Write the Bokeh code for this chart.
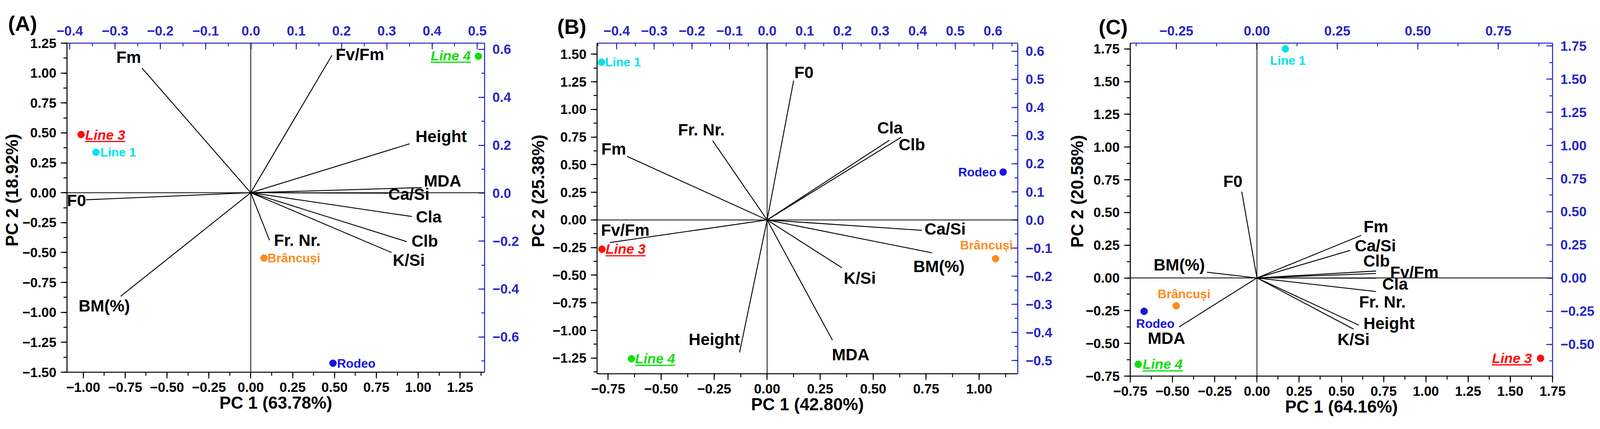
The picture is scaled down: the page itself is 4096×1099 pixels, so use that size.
import numpy as np
from bokeh.plotting import figure
from bokeh.models import (Range1d, LinearAxis, FixedTicker, CustomJSTickFormatter,
                          Span, Title, ColumnDataSource)
from bokeh.layouts import row
from bokeh.embed import file_html
from bokeh.resources import INLINE
from bokeh.core.properties import value

# ------------------------------------------------------------------ data
# Panel A
A_vars = ["Fm", "F0", "BM(%)", "Fr. Nr.", "Fv/Fm", "Height", "MDA", "Ca/Si", "Cla", "Clb", "K/Si"]
A_load_pc1 = [-0.649, -0.983, -0.777, 0.112, 0.485, 0.949, 1.022, 0.821, 0.962, 0.932, 0.841]
A_load_pc2 = [1.041, -0.059, -0.866, -0.398, 1.149, 0.409, 0.043, -0.004, -0.199, -0.409, -0.500]
A_obs = ["Line 3", "Line 1", "Brâncuși", "Rodeo", "Line 4"]
A_score_pc1 = [-1.013, -0.924, 0.079, 0.491, 1.359]
A_score_pc2 = [0.486, 0.338, -0.546, -1.425, 1.140]
A_xlabel = "PC 1 (63.78%)"
A_ylabel = "PC 2 (18.92%)"

# Panel B
B_vars = ["F0", "Fr. Nr.", "Fm", "Fv/Fm", "Height", "Cla", "Clb", "Ca/Si", "BM(%)", "K/Si", "MDA"]
B_load_pc1 = [0.125, -0.257, -0.661, -0.742, -0.130, 0.577, 0.631, 0.730, 0.777, 0.353, 0.308]
B_load_pc2 = [1.261, 0.717, 0.576, -0.205, -1.199, 0.722, 0.747, -0.094, -0.297, -0.433, -1.088]
B_obs = ["Line 1", "Line 3", "Line 4", "Rodeo", "Brâncuși"]
B_score_pc1 = [-0.781, -0.779, -0.640, 1.113, 1.077]
B_score_pc2 = [1.427, -0.265, -1.256, 0.433, -0.351]
B_xlabel = "PC 1 (42.80%)"
B_ylabel = "PC 2 (25.38%)"

# Panel C
C_vars = ["F0", "BM(%)", "MDA", "Fm", "Ca/Si", "Clb", "Fv/Fm", "Cla", "Fr. Nr.", "Height", "K/Si"]
C_load_pc1 = [-0.090, -0.296, -0.461, 0.617, 0.552, 0.705, 0.705, 0.705, 0.705, 0.603, 0.572]
C_load_pc2 = [0.659, 0.044, -0.374, 0.325, 0.211, 0.053, 0.034, -0.002, -0.104, -0.361, -0.391]
C_obs = ["Line 1", "Brâncuși", "Rodeo", "Line 4", "Line 3"]
C_score_pc1 = [0.168, -0.478, -0.668, -0.703, 1.679]
C_score_pc2 = [1.750, -0.213, -0.255, -0.660, -0.614]
C_xlabel = "PC 1 (64.16%)"
C_ylabel = "PC 2 (20.58%)"

# ------------------------------------------------------------------ label layout (screen px offsets)
A_var_lay = [("center", -34.3, -28.1), ("right", 0, 2), ("center", -41.8, 24.4), ("left", 11.3, 0),
             ("left", 9.3, -2), ("left", 14.9, -18.8), ("left", 4.8, -17.5), ("left", 0, 3),
             ("left", 10.4, 1.3), ("left", 11.9, -1.4), ("left", 3, 19.7)]
A_obs_lay = [("left", 10.5, 1), ("left", 11.5, 0), ("left", 9, 0), ("left", 10.6, 0), ("right", -19.5, -1.6)]
B_var_lay = [("left", 1.8, -21), ("center", -28.9, -28), ("right", -2.4, -18.9), ("center", 39.5, -31.5),
             ("right", 1, -33.6), ("center", 1.4, -31.6), ("left", -6, 18.9), ("left", 6.7, -3.4),
             ("center", 18, 35.1), ("left", 4.6, 26.7), ("center", 46.7, 37.2)]
B_obs_lay = [("left", 9.3, 0), ("left", 9.3, 0), ("left", 9.3, 0), ("right", -16.8, 0), ("center", -23.2, -35)]
C_var_lay = [("center", -22.8, -26.7), ("right", -5.3, -19), ("center", -32.3, 29.4), ("left", 6.1, -22.3),
             ("left", 11.7, -11.8), ("center", 1.4, -25.5), ("left", 36, -3.2), ("left", 15.8, 15.2),
             ("center", 16.3, 26.6), ("left", 11.9, -4.8), ("center", 0, 26.6)]
C_obs_lay = [("center", 6.6, 29.3), ("center", 20.1, -30.1), ("center", 28.8, 31.5), ("left", 11.1, 0),
             ("right", -22, 0)]

FONT = "Liberation Sans"
AX_BLUE = "#2626C8"
OBS_COLORS = {"Line 1": "#00E2EA", "Line 3": "#FF0A0A", "Line 4": "#10E010",
              "Rodeo": "#1515E2", "Brâncuși": "#FF8A1E"}
ITALIC = {"Line 3", "Line 4"}

VAR_FS = 42.2
OBS_FS = 31.6
ITAL_FS = 35.5
TICK_FS = 34.5
TITLE_FS = 44
LETTER_FS = 53.7


def tick_list(a, b, step):
    n = int(round((b - a) / step))
    return [round(a + i * step, 6) for i in range(n + 1)]


def fmt(d):
    return CustomJSTickFormatter(code="return tick.toFixed(%d).replace('-', '\\u2212');" % d)


def style_axis(ax, color, inward, major, minor, digits, standoff):
    ax.ticker = FixedTicker(ticks=major, minor_ticks=minor)
    ax.formatter = fmt(digits)
    ax.axis_line_color = color
    ax.axis_line_width = 2.6
    ax.major_tick_line_color = color
    ax.minor_tick_line_color = color
    ax.major_tick_line_width = 2.4
    ax.minor_tick_line_width = 2.4
    if inward:
        ax.major_tick_in, ax.major_tick_out = 16, 0
        ax.minor_tick_in, ax.minor_tick_out = 8, 0
    else:
        ax.major_tick_in, ax.major_tick_out = 0, 16
        ax.minor_tick_in, ax.minor_tick_out = 0, 9
    ax.major_label_text_font = FONT
    ax.major_label_text_font_style = "bold"
    ax.major_label_text_font_size = "%spx" % TICK_FS
    ax.major_label_text_color = color
    ax.major_label_standoff = standoff


def make_panel(cfg, vars_, lpc1, lpc2, var_lay, obs, spc1, spc2, obs_lay, xlabel, ylabel, letter):
    x0, x1 = cfg["xr"]
    y0, y1 = cfg["yr"]
    p = figure(x_range=Range1d(x0, x1), y_range=Range1d(y0, y1),
               frame_width=cfg["fw"], frame_height=cfg["fh"],
               min_border_left=cfg["bl"], min_border_right=cfg["br"],
               min_border_top=cfg["bt"], min_border_bottom=cfg["bb"],
               output_backend="svg", toolbar_location=None)
    p.outline_line_color = None
    p.grid.visible = False
    p.background_fill_color = "white"
    p.border_fill_color = "white"
    p.extra_x_ranges = {"top": Range1d(*cfg["xr2"])}
    p.extra_y_ranges = {"right": Range1d(*cfg["yr2"])}
    top = LinearAxis(x_range_name="top")
    right = LinearAxis(y_range_name="right")
    p.add_layout(top, "above")
    p.add_layout(right, "right")
    bottom = p.below[0]
    left = p.left[0]
    style_axis(bottom, "black", False, *cfg["bt_ticks"], 2, 10)
    style_axis(left, "black", False, *cfg["lt_ticks"], 2, 11)
    style_axis(top, AX_BLUE, True, *cfg["tt_ticks"], cfg["tdig"], 20)
    style_axis(right, AX_BLUE, True, *cfg["rt_ticks"], cfg["rdig"], 20)

    # bottom axis title
    bottom.axis_label = xlabel
    bottom.axis_label_standoff = 0
    bottom.axis_label_text_font = FONT
    bottom.axis_label_text_font_style = "bold"
    bottom.axis_label_text_font_size = "%spx" % TITLE_FS
    bottom.axis_label_text_color = "black"

    # left title (vertical), shifted along the axis as in the original
    ytitle = Title(text=ylabel, align="left", offset=cfg["ylab_off"], standoff=cfg["ylab_so"],
                   text_font=FONT, text_font_style="bold", text_font_size="%spx" % TITLE_FS,
                   text_color="black")
    p.add_layout(ytitle, "left")

    # panel letter
    p.title.text = letter
    p.title.align = "left"
    p.title.offset = cfg["let_off"]
    p.title.standoff = cfg["let_so"]
    p.title.text_font = FONT
    p.title.text_font_style = "bold"
    p.title.text_font_size = "%spx" % LETTER_FS
    p.title.text_color = "black"

    p.add_layout(Span(location=0, dimension="width", line_color="black", line_width=1.9))
    p.add_layout(Span(location=0, dimension="height", line_color="black", line_width=1.9))

    n = len(vars_)
    src = ColumnDataSource(dict(x0=[0.0] * n, y0=[0.0] * n, x1=lpc1, y1=lpc2, text=vars_,
                                align=[l[0] for l in var_lay], dx=[l[1] for l in var_lay],
                                dy=[l[2] for l in var_lay]))
    p.segment("x0", "y0", "x1", "y1", source=src, line_color="black", line_width=2.3)
    p.text(x="x1", y="y1", text="text", x_offset="dx", y_offset="dy", text_align="align",
           text_baseline="middle", text_font=value(FONT), text_font_style="bold",
           text_font_size=value("%spx" % VAR_FS), text_color="black", source=src)

    colors = [OBS_COLORS[o] for o in obs]
    p.scatter(spc1, spc2, size=18, fill_color=colors, line_color=colors)

    ppx = cfg["fw"] / (x1 - x0)
    ppy = cfg["fh"] / (y1 - y0)
    for grp_italic in (False, True):
        idx = [i for i, o in enumerate(obs) if (o in ITALIC) == grp_italic]
        s = ColumnDataSource(dict(x=[spc1[i] for i in idx], y=[spc2[i] for i in idx],
                                  text=[obs[i] for i in idx], color=[colors[i] for i in idx],
                                  align=[obs_lay[i][0] for i in idx], dx=[obs_lay[i][1] for i in idx],
                                  dy=[obs_lay[i][2] for i in idx]))
        p.text(x="x", y="y", text="text", x_offset="dx", y_offset="dy", text_align="align",
               text_baseline="middle", text_font=value(FONT),
               text_font_style="bold italic" if grp_italic else "bold",
               text_font_size=value("%spx" % (ITAL_FS if grp_italic else OBS_FS)),
               text_color="color", source=s)
        if grp_italic:
            w = 2.89 * ITAL_FS
            ux0, ux1, uy = [], [], []
            for i in idx:
                a, dx, dy = obs_lay[i]
                if a == "left":
                    l0, l1 = dx, dx + w
                elif a == "right":
                    l0, l1 = dx - w, dx
                else:
                    l0, l1 = dx - w / 2, dx + w / 2
                ux0.append(spc1[i] + l0 / ppx)
                ux1.append(spc1[i] + l1 / ppx)
                uy.append(spc2[i] - (dy + 16.8) / ppy)
            p.segment(ux0, uy, ux1, uy, line_color=[colors[i] for i in idx], line_width=3.2)
    return p


cfgA = dict(xr=(-1.097, 1.396), yr=(-1.50, 1.25), xr2=(-0.406, 0.516), yr2=(-0.747, 0.626),
            fw=1069, fh=843, bl=171, br=100, bt=110, bb=130,
            bt_ticks=(tick_list(-1.0, 1.25, 0.25), tick_list(-1.0, 1.375, 0.125)),
            lt_ticks=(tick_list(-1.5, 1.25, 0.25), tick_list(-1.5, 1.25, 0.125)),
            tt_ticks=(tick_list(-0.4, 0.5, 0.1), tick_list(-0.4, 0.5, 0.05)), tdig=1,
            rt_ticks=(tick_list(-0.6, 0.6, 0.2), tick_list(-0.7, 0.6, 0.1)), rdig=1,
            ylab_off=322, ylab_so=0, let_off=-151, let_so=-53)
cfgB = dict(xr=(-0.802, 1.182), yr=(-1.392, 1.600), xr2=(-0.452, 0.666), yr2=(-0.547, 0.629),
            fw=1077, fh=847, bl=184, br=111, bt=103, bb=133,
            bt_ticks=(tick_list(-0.75, 1.0, 0.25), tick_list(-0.75, 1.125, 0.125)),
            lt_ticks=(tick_list(-1.25, 1.5, 0.25), tick_list(-1.375, 1.5, 0.125)),
            tt_ticks=(tick_list(-0.4, 0.6, 0.1), tick_list(-0.45, 0.65, 0.05)), tdig=1,
            rt_ticks=(tick_list(-0.5, 0.6, 0.1), tick_list(-0.5, 0.6, 0.05)), rdig=1,
            ylab_off=324, ylab_so=20, let_off=-102, let_so=-69)
cfgC = dict(xr=(-0.75, 1.75), yr=(-0.75, 1.794), xr2=(-0.393, 0.918), yr2=(-0.740, 1.772),
            fw=1081, fh=853, bl=177, br=110, bt=102, bb=128,
            bt_ticks=(tick_list(-0.75, 1.75, 0.25), tick_list(-0.75, 1.75, 0.125)),
            lt_ticks=(tick_list(-0.75, 1.75, 0.25), tick_list(-0.75, 1.75, 0.125)),
            tt_ticks=(tick_list(-0.25, 0.75, 0.25), tick_list(-0.375, 0.875, 0.125)), tdig=2,
            rt_ticks=(tick_list(-0.5, 1.75, 0.25), tick_list(-0.625, 1.75, 0.125)), rdig=2,
            ylab_off=329, ylab_so=-10, let_off=-81, let_so=-71)

pA = make_panel(cfgA, A_vars, A_load_pc1, A_load_pc2, A_var_lay, A_obs, A_score_pc1, A_score_pc2,
                A_obs_lay, A_xlabel, A_ylabel, "(A)")
pB = make_panel(cfgB, B_vars, B_load_pc1, B_load_pc2, B_var_lay, B_obs, B_score_pc1, B_score_pc2,
                B_obs_lay, B_xlabel, B_ylabel, "(B)")
pC = make_panel(cfgC, C_vars, C_load_pc1, C_load_pc2, C_var_lay, C_obs, C_score_pc1, C_score_pc2,
                C_obs_lay, C_xlabel, C_ylabel, "(C)")

layout = row(pA, pB, pC)
open("out.html", "w").write(file_html(layout, INLINE))
